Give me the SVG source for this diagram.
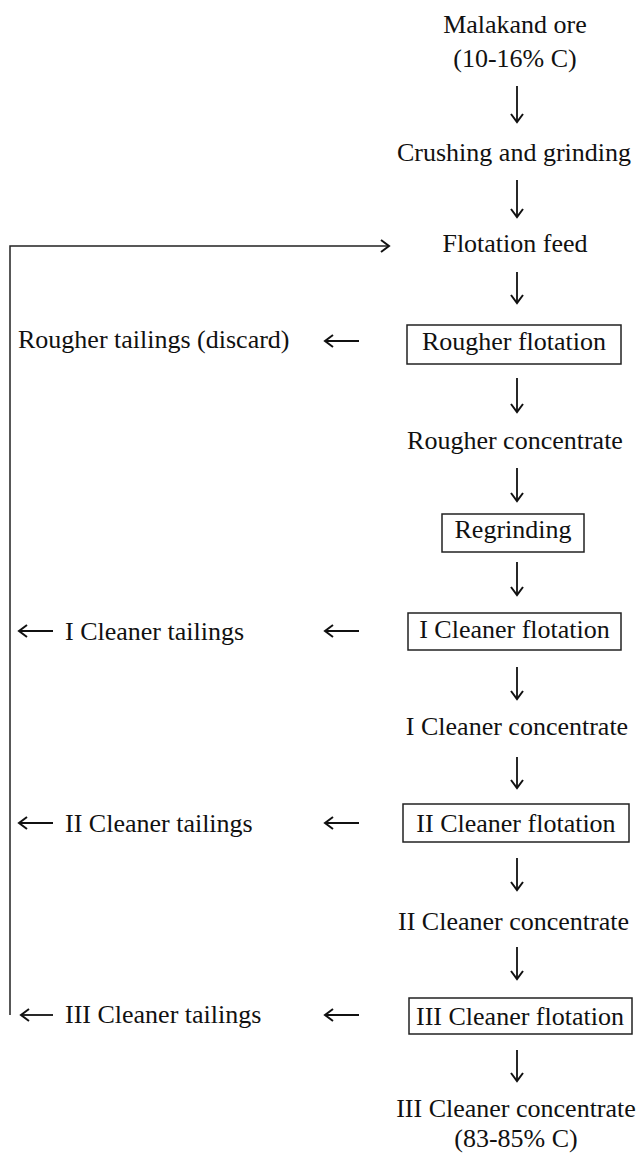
<svg xmlns="http://www.w3.org/2000/svg" width="636" height="1153" viewBox="0 0 636 1153">
<style>
text{font-family:"Liberation Serif","DejaVu Serif",serif;font-size:26px;fill:#111}
.c{text-anchor:middle}
.box{fill:none;stroke:#222;stroke-width:1.5}
.ln{fill:none;stroke:#111;stroke-width:1.8}
.rl{fill:none;stroke:#222;stroke-width:1.5}
</style>
<defs>
<marker id="ah" viewBox="-10 -7 12 14" refX="0" refY="0" markerWidth="12" markerHeight="14" markerUnits="userSpaceOnUse" orient="auto">
<path d="M-8,-6 L0,0 L-8,6" fill="none" stroke="#111" stroke-width="2"/>
</marker>
</defs>
<rect width="636" height="1153" fill="#fff"/>
<g id="connectors">
<path class="rl" d="M10,1015 V246 H389" marker-end="url(#ah)"/>
<path class="ln" d="M517,86 V122" marker-end="url(#ah)"/>
<path class="ln" d="M517,180 V217" marker-end="url(#ah)"/>
<path class="ln" d="M517,272 V303" marker-end="url(#ah)"/>
<path class="ln" d="M517,378 V412" marker-end="url(#ah)"/>
<path class="ln" d="M517,468 V501" marker-end="url(#ah)"/>
<path class="ln" d="M517,562 V595" marker-end="url(#ah)"/>
<path class="ln" d="M517,667 V699" marker-end="url(#ah)"/>
<path class="ln" d="M517,757 V788" marker-end="url(#ah)"/>
<path class="ln" d="M517,858 V890" marker-end="url(#ah)"/>
<path class="ln" d="M517,947 V979" marker-end="url(#ah)"/>
<path class="ln" d="M517,1050 V1081" marker-end="url(#ah)"/>
<path class="ln" d="M359,341 H325" marker-end="url(#ah)"/>
<path class="ln" d="M359,631 H325" marker-end="url(#ah)"/>
<path class="ln" d="M359,823 H325" marker-end="url(#ah)"/>
<path class="ln" d="M359,1015 H325" marker-end="url(#ah)"/>
<path class="ln" d="M53,631 H19" marker-end="url(#ah)"/>
<path class="ln" d="M53,823 H19" marker-end="url(#ah)"/>
<path class="ln" d="M53,1015 H21" marker-end="url(#ah)"/>
</g>
<g id="ore"><text class="c" x="515" y="33">Malakand ore</text><text class="c" x="515" y="67">(10-16% C)</text></g>
<g id="crushing"><text class="c" x="514" y="161">Crushing and grinding</text></g>
<g id="feed"><text class="c" x="515" y="252">Flotation feed</text></g>
<g id="rougher"><rect class="box" x="407" y="325" width="214" height="39"/><text class="c" x="514" y="350">Rougher flotation</text></g>
<g id="rougher-tail"><text x="18" y="348">Rougher tailings (discard)</text></g>
<g id="rougher-conc"><text class="c" x="515" y="449">Rougher concentrate</text></g>
<g id="regrinding"><rect class="box" x="442" y="514" width="142" height="38"/><text class="c" x="513" y="538">Regrinding</text></g>
<g id="clean1"><rect class="box" x="408" y="613" width="213" height="37"/><text class="c" x="514.5" y="638">I Cleaner flotation</text></g>
<g id="clean1-tail"><text x="65" y="640">I Cleaner tailings</text></g>
<g id="clean1-conc"><text class="c" x="517" y="735">I Cleaner concentrate</text></g>
<g id="clean2"><rect class="box" x="403" y="804" width="226" height="38"/><text class="c" x="516" y="832">II Cleaner flotation</text></g>
<g id="clean2-tail"><text x="65" y="832">II Cleaner tailings</text></g>
<g id="clean2-conc"><text class="c" x="513.5" y="930">II Cleaner concentrate</text></g>
<g id="clean3"><rect class="box" x="409" y="998" width="223" height="36"/><text class="c" x="520" y="1025">III Cleaner flotation</text></g>
<g id="clean3-tail"><text x="65" y="1023">III Cleaner tailings</text></g>
<g id="clean3-conc"><text class="c" x="516" y="1117">III Cleaner concentrate</text><text class="c" x="516" y="1147">(83-85% C)</text></g>
</svg>
